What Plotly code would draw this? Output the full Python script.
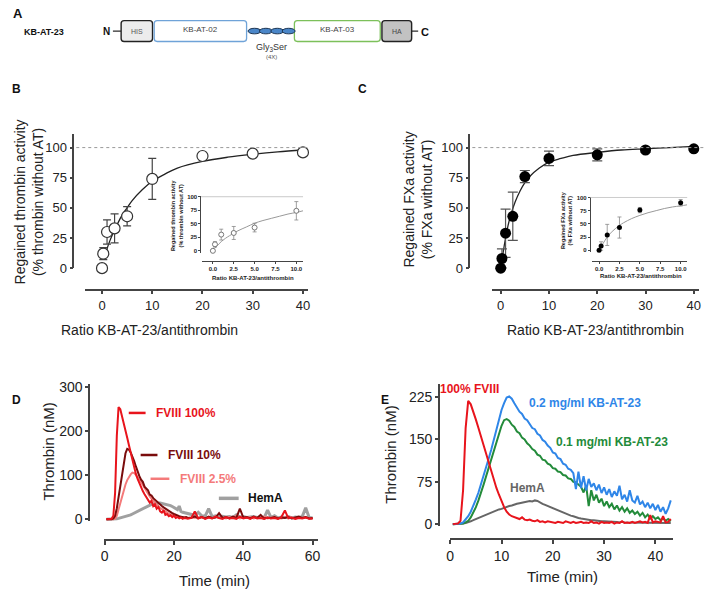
import numpy as np
import plotly.graph_objects as go

# ---------------- DATA ----------------
# Panel B: regained thrombin activity (open circles)
ratio_b = [0, 0.25, 1, 2.5, 5, 10, 20, 30, 40]
thr_b = [0, 12, 30, 33, 43, 74, 93, 95, 96]
thr_b_err = [0, 5, 10, 12, 8, 17, 0, 0, 0]
fit_b_x = [0.5, 1, 1.5, 2, 3, 4, 5, 6, 8, 10, 12.5, 15, 20, 25, 30, 35, 40]
fit_b_y = [8, 16, 22, 27, 36, 44, 50, 56, 65, 72, 78, 83, 88.5, 92, 94.5, 96.5, 98]
ins_b_x = [0, 0.25, 1, 2.5, 5, 10]
ins_b_y = [0, 12, 30, 33, 43, 74]
ins_b_err = [0, 5, 10, 12, 8, 17]
ins_fit_b_x = [0.2, 0.5, 1, 1.5, 2, 3, 4, 5, 6, 7, 8, 9, 10, 10.8]
ins_fit_b_y = [4, 9, 17, 23, 28, 37, 44, 51, 56, 60, 64, 68, 71, 74]

# Panel C: regained FXa activity (filled circles)
ratio_c = [0, 0.25, 1, 2.5, 5, 10, 20, 30, 40]
fxa_c = [0, 8, 29, 43, 76, 91, 94, 98, 99]
fxa_c_err = [0, 8, 20, 20, 5, 6, 5, 2, 1]
fit_c_x = [0.25, 0.5, 1, 1.5, 2, 3, 4, 5, 6, 8, 10, 12.5, 15, 20, 25, 30, 35, 40]
fit_c_y = [6, 13, 25, 35, 43, 55, 64, 71, 76, 83, 88, 91, 93.5, 96, 98, 99, 100, 101]
ins_c_x = [0, 0.25, 1, 2.5, 5, 10]
ins_c_y = [0, 8, 29, 43, 76, 90]
ins_c_err = [0, 8, 20, 20, 5, 6]
ins_fit_c_x = [0, 0.5, 1, 1.5, 2, 2.5, 3, 4, 5, 6, 7, 8, 9, 10, 10.8]
ins_fit_c_y = [0, 13, 25, 34, 41, 47, 52, 60, 66, 71, 75, 79, 82, 84, 86]

# Panel D: thrombin generation, FVIII dilutions (time grid in min)
t_d = list(np.arange(0.5, 24.01, 0.5)) + list(np.arange(25, 60.01, 1))
fviii_100 = [0, 0, 0, 1, 8, 60, 190, 255, 250, 235,
             218, 200, 185, 168, 150, 133, 118, 103, 92, 82,
             72, 64, 57, 50, 45, 38, 42, 30, 34, 24,
             28, 18, 15, 20, 10, 12, 7, 9, 5, 8,
             3, 5, 2, 4, 1, 3, 2, 1,
             3, 18, 2, 5, 1, 4, 2, 6, 3, 1,
             5, 2, 3, 1, 6, 2, 4, 1, 5, 2,
             3, 1, 4, 2, 3, 1, 5, 20, 2, 4,
             1, 3, 2, 4, 1, 2]
fviii_10 = [0, 0, 0, 0, 2, 8, 25, 50, 80, 108,
            132, 150, 160, 158, 152, 143, 132, 120, 108, 98,
            90, 85, 74, 70, 66, 56, 54, 48, 44, 40,
            36, 34, 30, 27, 24, 22, 19, 17, 14, 12,
            10, 9, 7, 6, 5, 4, 5, 3,
            4, 6, 3, 5, 2, 6, 3, 4, 14, 3,
            5, 2, 6, 3, 24, 4, 5, 2, 6, 3,
            10, 2, 4, 3, 5, 2, 4, 3, 5, 2,
            4, 6, 3, 5, 2, 3]
fviii_25 = [0, 0, 0, 0, 0, 2, 8, 22, 38, 54,
            67, 79, 89, 97, 102, 106, 105, 101, 96, 90,
            84, 78, 71, 65, 58, 52, 47, 42, 37, 33,
            29, 26, 23, 20, 17, 15, 13, 11, 9, 8,
            7, 6, 5, 5, 4, 4, 3, 3,
            3, 4, 2, 5, 3, 4, 2, 6, 3, 4,
            2, 5, 3, 8, 2, 4, 3, 5, 2, 4,
            3, 6, 2, 4, 5, 3, 2, 4, 6, 3,
            2, 4, 3, 5, 2, 3]
hema_d = [0, 0, 0, 0, 0, 1, 1, 2, 3, 4,
          5, 6, 7, 9, 10, 12, 14, 16, 18, 21,
          23, 25, 27, 29, 31, 32, 34, 35, 36, 36,
          37, 37, 36, 36, 35, 34, 33, 31, 29, 27,
          25, 22, 30, 18, 16, 15, 13, 12,
          11, 9, 16, 8, 7, 24, 6, 8, 5, 7,
          5, 6, 4, 10, 5, 6, 4, 5, 6, 4,
          5, 3, 21, 4, 8, 3, 5, 4, 6, 3,
          5, 4, 6, 26, 4, 3]

# Panel E: thrombin generation, KB-AT-23 in HemA plasma
t_e = list(np.arange(0.5, 43.01, 0.5))
fviii_e = [0, 0, 1, 6, 60, 170, 218, 212, 200, 185,
           170, 155, 140, 124, 108, 92, 78, 64, 52, 40,
           30, 22, 17, 14, 12, 11, 9, 12, 8, 7,
           8, 6, 5, 7, 4, 5, 3, 5, 4, 3,
           2, 4, 3, 2, 5, 3, 2, 4, 2, 3,
           4, 2, 3, 2, 5, 2, 3, 1, 4, 2,
           3, 2, 4, 1, 3, 2, 5, 2, 3, 2,
           4, 2, 3, 5, 3, 4, 2, 16, 3, 5,
           4, 3, 14, 3, 4, 9]
kb02_e = [0, 0, 0, 1, 3, 8, 14, 22, 32, 44,
          56, 70, 85, 100, 116, 132, 150, 168, 186, 202,
          214, 224, 226, 222, 214, 207, 199, 195, 187, 184,
          178, 170, 168, 160, 157, 149, 146, 139, 135, 127,
          125, 117, 115, 107, 105, 98, 96, 90, 62, 93,
          64, 85, 60, 80, 66, 72, 60, 70, 55, 65,
          52, 62, 48, 58, 50, 68, 44, 52, 40, 60,
          42, 38, 50, 35, 40, 30, 38, 28, 36, 25,
          34, 22, 30, 18, 28, 42]
kb01_e = [0, 0, 0, 0, 1, 3, 6, 12, 20, 30,
          42, 55, 70, 85, 100, 115, 130, 146, 160, 174,
          184, 186, 183, 176, 172, 164, 161, 153, 150, 143,
          139, 133, 130, 123, 121, 114, 113, 107, 105, 99,
          98, 93, 92, 87, 86, 81, 80, 75, 74, 70,
          66, 56, 68, 32, 60, 42, 52, 38, 45, 32,
          40, 30, 36, 26, 33, 24, 30, 22, 28, 20,
          24, 18, 22, 15, 20, 12, 17, 10, 14, 9,
          12, 7, 10, 6, 9, 5]
hema_e = [0, 0, 0, 0, 1, 2, 3, 5, 7, 9,
          11, 13, 15, 17, 19, 21, 22, 24, 26, 27,
          29, 30, 32, 33, 35, 36, 37, 38, 39, 40,
          41, 40, 42, 41, 38, 36, 34, 32, 30, 28,
          26, 24, 22, 20, 18, 17, 15, 14, 12, 11,
          10, 9, 8, 8, 7, 7, 6, 6, 5, 5,
          5, 4, 5, 4, 4, 3, 4, 3, 3, 3,
          3, 2, 3, 2, 3, 2, 2, 3, 2, 2,
          2, 3, 2, 2, 2, 2]

# ---------------- HELPERS ----------------
W, H = 709, 598
FONT = "Arial, Liberation Sans, sans-serif"
AX = "#444"


def px(x):
    return x / W


def py(y):
    return 1 - y / H


def axis(x0, x1, rng, pos, tickvals, size=13, ticktext=None, bold=False, ticklen=4, lw=1.5):
    d = dict(domain=[px(x0), px(x1)] if x0 < x1 else [py(x0), py(x1)],
             range=rng, anchor="free", position=pos,
             showline=True, linecolor=AX, linewidth=lw,
             ticks="outside", tickcolor=AX, ticklen=ticklen, tickwidth=lw,
             tickvals=tickvals, showgrid=False, zeroline=False,
             tickfont=dict(size=size, color="#222", family=FONT,
                           weight="bold" if bold else "normal"))
    if ticktext is not None:
        d["ticktext"] = ticktext
    return d


def note(text, x, y, size=14, color="#222", bold=False, angle=0, xanchor="center"):
    return dict(text=text, x=px(x), y=py(y), xref="paper", yref="paper",
                showarrow=False, textangle=angle, xanchor=xanchor, yanchor="middle",
                font=dict(size=size, color=color, family=FONT,
                          weight="bold" if bold else "normal"))


def rrect(x0, y0, x1, y1, r=3):
    pts = [("M", x0 + r, y0), ("L", x1 - r, y0), ("Q", x1, y0, x1, y0 + r),
           ("L", x1, y1 - r), ("Q", x1, y1, x1 - r, y1), ("L", x0 + r, y1),
           ("Q", x0, y1, x0, y1 - r), ("L", x0, y0 + r), ("Q", x0, y0, x0 + r, y0)]
    s = ""
    for p in pts:
        coords = " ".join(f"{px(p[i]):.5f},{py(p[i + 1]):.5f}" for i in range(1, len(p), 2))
        s += f"{p[0]} {coords} "
    return s + "Z"


def hline(x0, x1, y, color, width=1.5, dash="solid"):
    return dict(type="line", xref="paper", yref="paper", x0=px(x0), x1=px(x1),
                y0=py(y), y1=py(y), line=dict(color=color, width=width, dash=dash))


fig = go.Figure()

# ---------------- PANEL B ----------------
fig.add_trace(go.Scatter(x=fit_b_x, y=fit_b_y, mode="lines", line=dict(color="#222", width=1.3, shape="spline"),
                         xaxis="x", yaxis="y"))
fig.add_trace(go.Scatter(x=ratio_b, y=thr_b, mode="markers", cliponaxis=False,
                         marker=dict(symbol="circle", size=11, color="white", line=dict(color="#333", width=1.2)),
                         error_y=dict(type="data", array=thr_b_err, color="#444", thickness=1.2, width=4),
                         xaxis="x", yaxis="y"))
fig.add_trace(go.Scatter(x=ins_fit_b_x, y=ins_fit_b_y, mode="lines", line=dict(color="#999", width=1, shape="spline"),
                         xaxis="x2", yaxis="y2"))
fig.add_trace(go.Scatter(x=ins_b_x, y=ins_b_y, mode="markers", cliponaxis=False,
                         marker=dict(symbol="circle", size=5, color="white", line=dict(color="#777", width=1)),
                         error_y=dict(type="data", array=ins_b_err, color="#888", thickness=0.8, width=2),
                         xaxis="x2", yaxis="y2"))

# ---------------- PANEL C ----------------
fig.add_trace(go.Scatter(x=fit_c_x, y=fit_c_y, mode="lines", line=dict(color="#222", width=1.3, shape="spline"),
                         xaxis="x3", yaxis="y3"))
fig.add_trace(go.Scatter(x=ratio_c, y=fxa_c, mode="markers", cliponaxis=False,
                         marker=dict(symbol="circle", size=11, color="black"),
                         error_y=dict(type="data", array=fxa_c_err, color="#555", thickness=1.2, width=5),
                         xaxis="x3", yaxis="y3"))
fig.add_trace(go.Scatter(x=ins_fit_c_x, y=ins_fit_c_y, mode="lines", line=dict(color="#999", width=1, shape="spline"),
                         xaxis="x4", yaxis="y4"))
fig.add_trace(go.Scatter(x=ins_c_x, y=ins_c_y, mode="markers", cliponaxis=False,
                         marker=dict(symbol="circle", size=5, color="black"),
                         error_y=dict(type="data", array=ins_c_err, color="#888", thickness=0.8, width=2),
                         xaxis="x4", yaxis="y4"))

# ---------------- PANEL D ----------------
for ys, col, w in [(hema_d, "#a0a0a0", 3), (fviii_25, "#f47a7a", 2),
                   (fviii_10, "#7a0c0c", 2), (fviii_100, "#e8141c", 2)]:
    fig.add_trace(go.Scatter(x=t_d, y=ys, mode="lines", line=dict(color=col, width=w),
                             xaxis="x5", yaxis="y5"))

# ---------------- PANEL E ----------------
for ys, col in [(hema_e, "#666666"), (kb01_e, "#238b3a"), (kb02_e, "#2f86e8"), (fviii_e, "#e8141c")]:
    fig.add_trace(go.Scatter(x=t_e, y=ys, mode="lines", line=dict(color=col, width=2),
                             xaxis="x6", yaxis="y6"))

# ---------------- AXES ----------------
lay = dict(
    xaxis=axis(82, 307, [-3.35, 41], py(291), [0, 10, 20, 30, 40]),
    yaxis=axis(269, 131.7, [0, 111.4], px(70), [0, 25, 50, 75, 100], ticklen=3),
    xaxis2=axis(200, 302, [-1.3, 10.8], py(261.7), [0, 2.5, 5, 7.5, 10], size=6,
                ticktext=["0.0", "2.5", "5.0", "7.5", "10.0"], bold=True, ticklen=2, lw=1),
    yaxis2=axis(253, 195, [-3.1, 101.8], px(198.3), [0, 25, 50, 75, 100], size=6, bold=True, ticklen=2, lw=1),
    xaxis3=axis(493.3, 701.7, [-1.72, 41.03], py(291), [0, 10, 20, 30, 40]),
    yaxis3=axis(269, 131.7, [0, 111.4], px(470), [0, 25, 50, 75, 100], ticklen=3),
    xaxis4=axis(594, 690, [-0.85, 10.8], py(261.7), [0, 2.5, 5, 7.5, 10], size=6,
                ticktext=["0.0", "2.5", "5.0", "7.5", "10.0"], bold=True, ticklen=2, lw=1),
    yaxis4=axis(252, 196, [-2.4, 101.3], px(591.7), [0, 25, 50, 75, 100], size=6, bold=True, ticklen=2, lw=1),
    xaxis5=axis(101, 316.7, [-0.2, 61.43], py(546.7), [0, 20, 40, 60], size=14),
    yaxis5=axis(527.5, 387.3, [-4, 307.6], px(86), [0, 100, 200, 300], size=14, ticklen=3),
    xaxis6=axis(450.7, 676, [0, 43.5], py(546), [0, 10, 20, 30, 40], size=14),
    yaxis6=axis(532.4, 387.3, [-3, 248.2], px(439.3), [0, 75, 150, 225], size=14, ticklen=3),
)

# ---------------- SHAPES ----------------
shapes = [
    # reference lines at 100 %
    dict(type="line", xref="paper", yref="y", x0=px(73), x1=px(307), y0=100, y1=100,
         line=dict(color="#999", width=1, dash="dot")),
    dict(type="line", xref="paper", yref="y3", x0=px(473), x1=px(708), y0=100, y1=100,
         line=dict(color="#999", width=1, dash="dot")),
    dict(type="line", xref="paper", yref="y2", x0=px(199), x1=px(302), y0=100, y1=100,
         line=dict(color="#bbb", width=0.8)),
    dict(type="line", xref="paper", yref="y4", x0=px(592), x1=px(690), y0=100, y1=100,
         line=dict(color="#bbb", width=0.8)),
    # panel D legend keys
    hline(126, 143, 417, "#e8141c", 2.5),
    hline(138, 155, 460, "#7a0c0c", 2.5),
    hline(148, 167, 484.3, "#f47a7a", 2.5),
    hline(217, 237, 504.3, "#a0a0a0", 3.5),
    # panel A construct
    hline(110, 118.3, 26.7, "#222", 1.2),
    hline(411.7, 418.3, 26.7, "#222", 1.2),
    dict(type="path", xref="paper", yref="paper", path=rrect(118.3, 16, 150, 37.3),
         fillcolor="#ececec", line=dict(color="#222", width=1.4)),
    dict(type="path", xref="paper", yref="paper", path=rrect(151.7, 16, 245, 37.3),
         fillcolor="white", line=dict(color="#6fa3d8", width=1.3)),
    dict(type="path", xref="paper", yref="paper", path=rrect(293.3, 16, 380, 37.3),
         fillcolor="white", line=dict(color="#7cc05a", width=1.3)),
    dict(type="path", xref="paper", yref="paper", path=rrect(381.7, 16, 411.7, 37.3),
         fillcolor="#c2c2c2", line=dict(color="#222", width=1.4)),
]
for cx in [253, 264.5, 276, 287.5]:
    shapes.append(dict(type="circle", xref="paper", yref="paper",
                       x0=px(cx - 6.5), x1=px(cx + 6.5), y0=py(29.5), y1=py(23.8),
                       fillcolor="#4a86c8", line=dict(color="#1c3553", width=1)))

# ---------------- TEXT ----------------
ann = [
    note("A", 14, 9, 13, "#111", True),
    note("KB-AT-23", 40, 27.3, 9, "#111", True),
    note("N", 103.5, 26.7, 10, "#111", True),
    note("C", 425, 27.3, 11, "#111", True),
    note("HIS", 134, 26.7, 7, "#555"),
    note("KB-AT-02", 198.3, 25.5, 8, "#444"),
    note("KB-AT-03", 336.7, 25.5, 8, "#444"),
    note("HA", 396.7, 26.7, 7, "#444"),
    note("Gly<sub>3</sub>Ser", 270, 43.3, 9, "#333"),
    note("(4X)", 270, 53.5, 6, "#555"),

    note("B", 13, 86, 12, "#111", True),
    note("Regained thrombin activity<br>(% thrombin without AT)", 25, 201, 14, angle=-90),
    note("Ratio KB-AT-23/antithrombin", 147, 332, 14),
    note("Regained thrombin activity<br>(% thrombin without AT)", 174.5, 215, 5.5, bold=True, angle=-90),
    note("Ratio KB-AT-23/antithrombin", 251, 279, 6, bold=True),

    note("C", 362, 86, 12, "#111", True),
    note("Regained FXa activity<br>(% FXa without AT)", 418, 199, 14, angle=-90),
    note("Ratio KB-AT-23/antithrombin", 597, 332, 14),
    note("Regained FXa activity<br>(% FXa without AT)", 567.5, 220, 5.5, bold=True, angle=-90),
    note("Ratio KB-AT-23/antithrombin", 643.5, 277, 6, bold=True),

    note("D", 13, 404, 12, "#111", True),
    note("Thrombin (nM)", 45, 457, 15, angle=-90),
    note("Time (min)", 213, 588, 15),
    note("FVIII 100%", 152, 417, 12, "#e8141c", True, xanchor="left"),
    note("FVIII 10%", 164, 460, 12, "#7a0c0c", True, xanchor="left"),
    note("FVIII 2.5%", 176, 484.3, 12, "#f47a7a", True, xanchor="left"),
    note("HemA", 244, 504.3, 12, "#111", True, xanchor="left"),

    note("E", 385, 404, 12, "#111", True),
    note("Thrombin (nM)", 389.5, 460, 15, angle=-90),
    note("Time (min)", 564, 584, 15),
    note("100% FVIII", 470, 392.7, 12, "#e8141c", True),
    note("0.2 mg/ml KB-AT-23", 587, 406.7, 12, "#2f86e8", True),
    note("0.1 mg/ml KB-AT-23", 614, 446.7, 12, "#238b3a", True),
    note("HemA", 529, 493.3, 12, "#666666", True),
]

fig.update_layout(
    width=W, height=H, autosize=False,
    margin=dict(l=0, r=0, t=0, b=0),
    paper_bgcolor="white", plot_bgcolor="rgba(0,0,0,0)",
    showlegend=False,
    font=dict(family=FONT, color="#222"),
    shapes=shapes, annotations=ann,
    **lay,
)

# drop the browser's default 8px page margin so the figure fills the window
fig.write_html("out.html", post_script="document.body.style.margin='0';",
               config={"displayModeBar": False})
